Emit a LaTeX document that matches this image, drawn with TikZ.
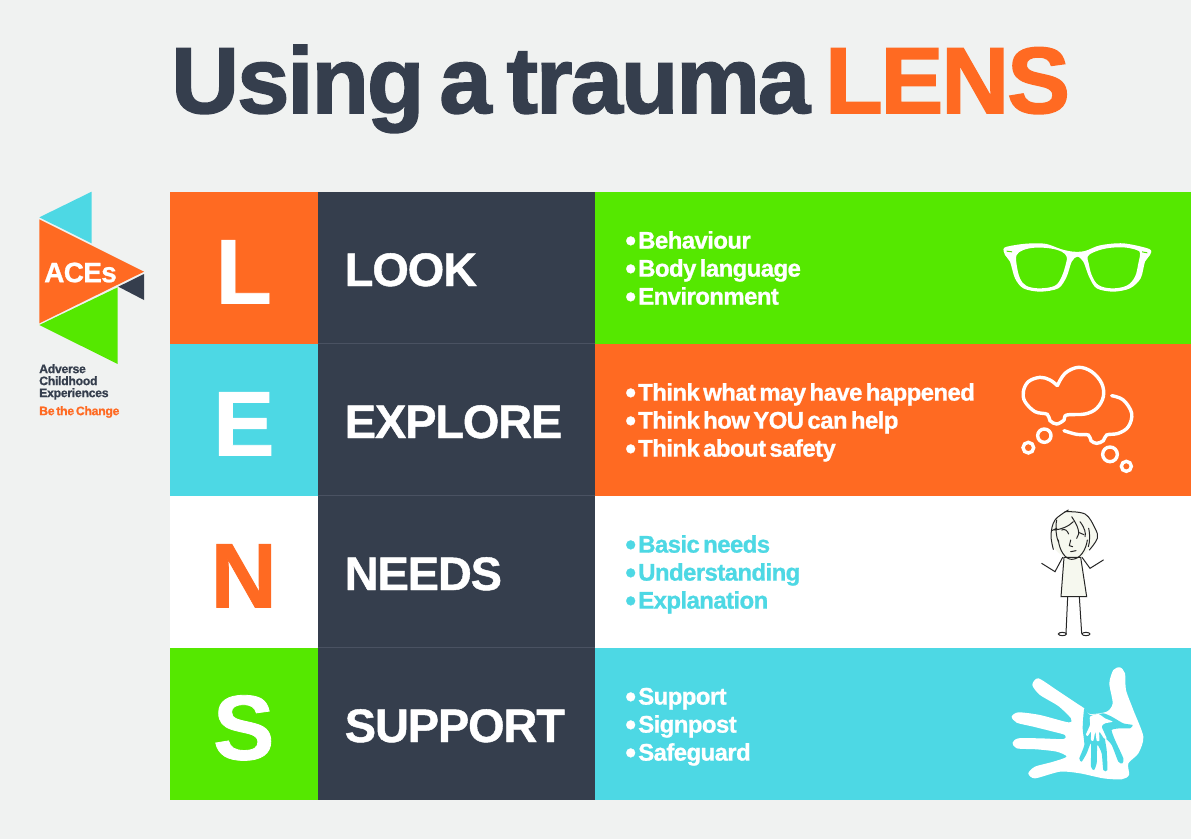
\documentclass[tikz,border=0pt]{standalone}
\usepackage{fontspec}
\setmainfont{Liberation Sans}[BoldFeatures={LetterSpace=-2.5,WordSpace=0.55,FakeBold=0.9}]
\newfontfamily\headingfont{Liberation Sans}[BoldFeatures={LetterSpace=-2.1,WordSpace=0.62,FakeBold=1.7}]
\usepackage{tikz}
\usetikzlibrary{positioning}
\definecolor{lensbg}{HTML}{F0F2F1}
\definecolor{lensorange}{HTML}{FF6A22}
\definecolor{lensnavy}{HTML}{353E4D}
\definecolor{lensseam}{HTML}{4A5262}
\definecolor{lensgreen}{HTML}{55E800}
\definecolor{lenscyan}{HTML}{4DD8E4}
\definecolor{lenspaper}{HTML}{F6F8EF}
\newcommand{\fsize}[1]{\fontsize{#1}{#1}\selectfont\bfseries}
\newcommand{\lensdot}{\strut\makebox[11pt][c]{\raisebox{-2.5pt}{\fontsize{31}{31}\selectfont•}}\kern2pt}
\tikzset{
  cell/.style={inner sep=0pt,outer sep=0pt,minimum height=152pt,anchor=north west},
  lettercell/.style={cell,minimum width=147.5pt,text height=72pt,text depth=0pt,font=\fsize{92}},
  wordcell/.style={cell,minimum width=277.5pt,fill=lensnavy,text=white,text height=37pt,text depth=0pt,font=\fsize{47},align=left,text width=223pt},
  listcell/.style={cell,minimum width=596pt},
  lenslist/.style={inner sep=0pt,anchor=west,align=left,font=\fontsize{24}{28}\bfseries},
  seamline/.style={draw=lensseam,line width=0.7pt},
  cloudline/.style={draw=white,line width=3.4pt,line cap=round},
  girlline/.style={draw=black!85,line width=1pt,line cap=round}
}
\begin{document}
\begin{tikzpicture}[x=1pt,y=-1pt]
            \useasboundingbox [fill=lensbg] (0,0) rectangle (1191,839);
            % heading
            \node [inner sep=0pt,anchor=base west] (heading) at (171,113) {\headingfont\fsize{94}\textcolor{lensnavy}{Using a trauma} \textcolor{lensorange}{LENS}};
            % logo
            \begin{scope}[shift={(20,180)},scale=1/3]
            \fill [lenscyan] (215,35) -- (58,112) -- (215,190) -- cycle;
            \fill [lensorange] (58,118) -- (372,275) -- (58,430) -- cycle;
            \fill [lensnavy] (372,282) -- (372,360) -- (295,320) -- cycle;
            \fill [lensgreen] (293,322) -- (293,552) -- (58,435) -- cycle;
            \end{scope}
            \node [inner sep=0pt,text=white,font=\fsize{28}] (logoname) at (80.5,272.5) {ACEs};
            \node [inner sep=0pt,anchor=north west,align=left,text=lensnavy,font=\fontsize{12.3}{12}\bfseries] (logotext) at (39,364) {Adverse\\Childhood\\Experiences};
            \node [inner sep=0pt,anchor=west,text=lensorange,font=\fsize{12.3}] (logotag) at (39,412) {Be the Change};
            % letters
            \node [lettercell,fill=lensorange,text=white] (cellL) at (170,191.5) {L};
            \node [lettercell,fill=lenscyan,text=white] (cellE) at (170,343.5) {E};
            \node [lettercell,fill=white,text=lensorange] (cellN) at (170,495.5) {N};
            \node [lettercell,fill=lensgreen,text=white] (cellS) at (170,647.5) {S};
            % words
            \node [wordcell] (look) at (317.5,191.5) {LOOK};
            \node [wordcell] (explore) at (317.5,343.5) {EXPLORE};
            \node [wordcell] (needs) at (317.5,495.5) {NEEDS};
            \node [wordcell] (support) at (317.5,647.5) {SUPPORT};
            \draw [seamline] (explore.north west) -- (explore.north east);
            \draw [seamline] (needs.north west) -- (needs.north east);
            \draw [seamline] (support.north west) -- (support.north east);
            % lists
            \node [listcell,fill=lensgreen] (lookcell) at (595,191.5) {};
            \node [listcell,fill=lensorange] (explorecell) at (595,343.5) {};
            \node [listcell,fill=white] (needscell) at (595,495.5) {};
            \node [listcell,fill=lenscyan] (supportcell) at (595,647.5) {};
            \node [lenslist,text=white] (looklist) at (625,271) {\lensdot Behaviour\\\lensdot Body language\\\lensdot Environment};
            \node [lenslist,text=white] (explorelist) at (625,423) {\lensdot Think what may have happened\\\lensdot Think how YOU can help\\\lensdot Think about safety};
            \node [lenslist,text=lenscyan] (needslist) at (625,575) {\lensdot Basic needs\\\lensdot Understanding\\\lensdot Explanation};
            \node [lenslist,text=white] (supportlist) at (625,727) {\lensdot Support\\\lensdot Signpost\\\lensdot Safeguard};
            % glasses
            \begin{scope}[shift={(990,220)},scale=1/3]
            \fill [white,even odd rule]
              plot [smooth cycle,tension=0.5] coordinates {(43,83) (90,73) (130,70) (170,72) (215,88) (250,95) (285,93) (330,76) (400,70) (478,87) (480,105) (465,125) (452,175) (420,205) (370,215) (320,205) (297,170) (280,125) (262,110) (245,125) (230,170) (205,205) (150,215) (100,205) (75,175) (60,125) (45,105)}
              plot [smooth cycle,tension=0.6] coordinates {(80,105) (100,90) (135,83) (180,85) (215,95) (230,110) (228,130) (215,170) (195,197) (150,205) (110,198) (90,175) (80,135)}
              plot [smooth cycle,tension=0.6] coordinates {(293,110) (310,97) (350,85) (400,82) (440,90) (450,100) (445,130) (435,170) (410,197) (365,205) (325,195) (305,165) (296,130)};
            \fill [lensgreen] (50,92) -- (66,94) -- (66,97) -- (50,95) -- cycle (456,94) -- (472,97) -- (472,100) -- (456,97) -- cycle;
            \end{scope}
            % thought clouds
            \begin{scope}[shift={(990,220)},scale=1/3]
            \draw [cloudline] plot [smooth,tension=0.6] coordinates {(202,497) (225,460) (265,442) (305,455) (335,490) (340,530) (320,565) (285,582) (230,585) (222,600) (200,612) (180,602) (172,583) (135,575) (105,545) (100,515) (115,485) (150,472) (180,480) (202,497)};
            \draw [cloudline] plot [smooth,tension=0.6] coordinates {(365,527) (400,540) (425,580) (415,620) (385,640) (350,645) (340,662) (320,670) (303,662) (295,645) (260,643) (222,632)};
            \draw [cloudline] (163,647) circle (20) (115,683) circle (16) (360,703) circle (22) (409,739) circle (15);
            \end{scope}
            % girl
            \begin{scope}[shift={(990,500)},scale=1/3]
            \fill [lenspaper] plot [smooth cycle,tension=0.6] coordinates {(190,140) (183,105) (195,60) (235,30) (285,45) (315,85) (317,120) (298,145) (275,170) (245,178) (215,165)};
            \filldraw [girlline,fill=lenspaper] (222,172) -- (272,172) -- (290,290) -- (213,290) -- cycle;
            \draw [girlline] (205,120) .. controls (208,150) and (225,178) .. (245,178) .. controls (270,178) and (288,150) .. (292,120);
            \draw [girlline] plot [smooth,tension=0.6] coordinates {(190,148) (183,105) (195,60) (235,30)};
            \draw [girlline] plot [smooth,tension=0.6] coordinates {(225,35) (285,42) (315,85) (322,115) (298,150)};
            \draw [girlline] (185,92) -- (200,85) (192,90) .. controls (215,88) and (235,80) .. (250,65) (245,50) .. controls (265,80) and (272,100) .. (260,115) (270,65) .. controls (285,85) and (288,100) .. (285,110) (296,85) .. controls (300,100) and (300,125) .. (295,140) (200,60) .. controls (195,85) and (200,115) .. (205,125);
            \draw [girlline] (215,90) .. controls (225,85) and (232,92) .. (236,102) (268,98) -- (282,104);
            \draw [girlline] (242,120) -- (238,137) -- (248,140) (242,155) -- (258,152);
            \draw [girlline] (218,172) -- (195,215) -- (155,190) (276,172) -- (300,205) -- (340,180);
            \draw [girlline] (233,290) -- (228,400) (268,290) -- (275,400);
            \draw [girlline] (217,402) ellipse (12 and 5) (288,402) ellipse (12 and 5);
            \end{scope}
            % hands
            \begin{scope}[shift={(990,500)},scale=1/3]
            \fill [white] plot [smooth cycle,tension=0.45] coordinates {(390,502) (405,520) (408,570) (430,630) (460,710) (445,760) (415,790) (417,825) (395,838) (340,835) (270,820) (210,815) (135,835) (115,820) (135,800) (190,785) (230,770) (200,755) (140,748) (80,745) (68,728) (85,715) (150,715) (220,717) (225,705) (190,695) (130,680) (80,668) (65,650) (85,637) (150,645) (235,667) (243,655) (205,618) (150,585) (127,555) (145,535) (200,570) (260,610) (283,625) (300,642) (350,635) (368,610) (358,550) (370,510)};
            \fill [lenscyan] plot [smooth cycle,tension=0.35] coordinates {(283,625) (278,685) (283,735) (268,775) (275,785) (290,760) (303,730) (303,800) (312,810) (320,790) (322,735) (335,760) (340,810) (352,810) (350,750) (345,715) (365,735) (385,785) (397,790) (400,775) (375,720) (365,690) (390,685) (420,685) (428,675) (400,670) (365,650) (340,640) (300,645)};
            \fill [white] plot [smooth cycle,tension=0.35] coordinates {(300,650) (325,642) (345,655) (368,665) (345,670) (335,680) (350,715) (342,715) (328,695) (328,722) (320,722) (316,695) (310,722) (303,720) (303,695) (293,708) (288,703) (300,675)};
            \end{scope}
        \end{tikzpicture}
\end{document}
